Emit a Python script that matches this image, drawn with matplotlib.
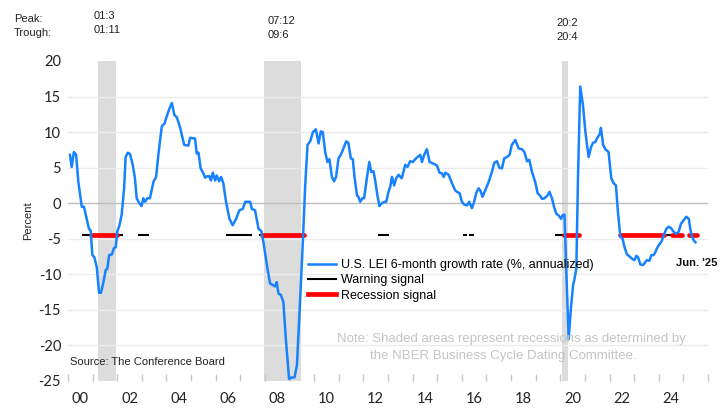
import matplotlib
matplotlib.use("Agg")
import matplotlib.pyplot as plt
from matplotlib.lines import Line2D

plt.rcParams['axes.unicode_minus'] = False

# ---------------- data ----------------
lei_x = [2000.08, 2000.15, 2000.24, 2000.33, 2000.42, 2000.56, 2000.65, 2000.76, 2000.85, 2000.92,
         2000.99, 2001.07, 2001.17, 2001.26, 2001.34, 2001.44, 2001.53, 2001.60, 2001.67, 2001.78,
         2001.87, 2001.94, 2002.00, 2002.09, 2002.18, 2002.28, 2002.34, 2002.43, 2002.52, 2002.63,
         2002.72, 2002.79, 2002.89, 2002.99, 2003.06, 2003.13, 2003.22, 2003.33, 2003.47, 2003.58,
         2003.67, 2003.81, 2003.92, 2004.01, 2004.12, 2004.22, 2004.32, 2004.42, 2004.55, 2004.72,
         2004.89, 2004.96, 2005.16, 2005.23, 2005.30, 2005.39, 2005.50, 2005.57, 2005.66, 2005.74,
         2005.81, 2005.88, 2005.98, 2006.04, 2006.14, 2006.22, 2006.31, 2006.42, 2006.56, 2006.69,
         2006.83, 2006.96, 2007.10, 2007.20, 2007.29, 2007.40, 2007.47, 2007.60, 2007.74, 2007.85,
         2007.94, 2008.08, 2008.21, 2008.32, 2008.41, 2008.48, 2008.55, 2008.65, 2008.75, 2008.85,
         2008.98, 2009.09, 2009.20, 2009.30, 2009.40, 2009.54, 2009.63, 2009.73, 2009.84, 2009.95,
         2010.07, 2010.18, 2010.27, 2010.35, 2010.45, 2010.54, 2010.62, 2010.72, 2010.81, 2010.89,
         2010.99, 2011.08, 2011.19, 2011.30, 2011.39, 2011.49, 2011.57, 2011.64, 2011.74, 2011.80,
         2011.87, 2011.96, 2012.03, 2012.14, 2012.24, 2012.32, 2012.41, 2012.48, 2012.57, 2012.65,
         2012.75, 2012.85, 2012.93, 2013.02, 2013.09, 2013.16, 2013.25, 2013.33, 2013.43, 2013.56,
         2013.70, 2013.79, 2013.90, 2014.01, 2014.11, 2014.20, 2014.31, 2014.38, 2014.47, 2014.58,
         2014.69, 2014.82, 2014.99, 2015.09, 2015.19, 2015.26, 2015.33, 2015.46, 2015.60, 2015.73,
         2015.80, 2015.91, 2016.00, 2016.10, 2016.21, 2016.30, 2016.41, 2016.50, 2016.59, 2016.68,
         2016.75, 2016.84, 2016.95, 2017.09, 2017.22, 2017.32, 2017.43, 2017.52, 2017.63, 2017.72,
         2017.83, 2017.94, 2018.03, 2018.17, 2018.31, 2018.44, 2018.54, 2018.65, 2018.74, 2018.85,
         2018.98, 2019.08, 2019.19, 2019.26, 2019.36, 2019.48, 2019.56, 2019.66, 2019.76, 2019.84,
         2019.93, 2020.03, 2020.09, 2020.17, 2020.24, 2020.34, 2020.43, 2020.52, 2020.58, 2020.65,
         2020.72, 2020.81, 2020.92, 2021.02, 2021.15, 2021.25, 2021.33, 2021.42, 2021.52, 2021.60,
         2021.65, 2021.74, 2021.83, 2021.96, 2022.07, 2022.17, 2022.26, 2022.34, 2022.44, 2022.53,
         2022.61, 2022.71, 2022.82, 2022.91, 2023.01, 2023.09, 2023.16, 2023.25, 2023.36, 2023.45,
         2023.52, 2023.62, 2023.70, 2023.79, 2023.86, 2023.93, 2024.02, 2024.11, 2024.20, 2024.31,
         2024.40, 2024.50, 2024.60, 2024.70, 2024.81, 2024.90, 2025.01, 2025.12, 2025.22, 2025.28,
         2025.35, 2025.42, 2025.49]
lei_y = [6.8, 5.1, 7.2, 6.8, 3.0, -0.5, -0.5, -2.2, -3.6, -3.8,
         -7.3, -7.6, -9.0, -12.6, -12.6, -11.1, -9.4, -9.2, -7.3, -7.2,
         -6.3, -6.2, -4.0, -3.1, -1.6, 2.1, 6.5, 7.1, 6.9, 5.4,
         3.5, 0.7, 0.05, -0.4, 0.7, 0.2, 0.7, 0.7, 3.0, 3.7,
         6.8, 10.8, 11.2, 12.2, 13.3, 14.1, 12.4, 12.1, 10.7, 8.2,
         8.1, 9.2, 9.1, 7.0, 7.1, 4.9, 4.2, 3.6, 3.8, 3.8,
         3.2, 4.3, 3.2, 3.9, 3.1, 3.7, 2.8, 0.2, -2.2, -3.1,
         -2.2, -1.0, -0.8, 0.2, 0.2, 0.2, -0.8, -1.0, -3.6, -3.9,
         -5.5, -8.7, -11.3, -11.5, -11.7, -11.1, -12.7, -12.9, -13.9, -19.1,
         -24.7, -24.5, -24.5, -22.8, -15.8, -5.5, 2.1, 8.2, 8.7, 10.0,
         10.4, 8.4, 10.1, 10.0, 7.2, 5.8, 6.2, 3.7, 3.1, 3.7,
         6.3, 6.8, 7.7, 8.7, 8.5, 6.3, 6.2, 3.7, 1.1, 0.9,
         0.2, 0.7, 0.7, 3.5, 5.8, 4.4, 4.5, 3.2, 1.1, -0.4,
         0.0, 0.2, 0.2, 1.6, 2.3, 3.7, 2.5, 3.5, 4.0, 3.5,
         5.4, 5.1, 5.9, 5.8, 6.2, 6.5, 6.8, 5.8, 6.8, 7.6,
         5.8, 5.6, 5.3, 4.3, 4.2, 3.7, 4.3, 4.0, 2.8, 1.8,
         1.6, 1.4, 0.2, -0.2, -0.3, 0.2, -0.7, 0.2, 1.5, 2.1,
         1.8, 0.9, 1.8, 3.0, 4.4, 5.7, 5.9, 5.0, 4.9, 6.3,
         6.5, 6.8, 8.2, 8.9, 7.7, 7.6, 7.2, 5.9, 6.1, 4.4,
         3.0, 1.4, 1.0, 0.6, 0.7, 1.1, 1.6, 0.7, -0.7, -1.5,
         -1.7, -2.2, -1.7, -1.6, -9.2, -19.1, -14.8, -11.5, -10.6, -9.2,
         3.9, 16.4, 13.8, 10.0, 6.5, 7.9, 8.5, 8.6, 9.3, 9.7,
         10.6, 8.2, 7.6, 7.2, 3.5, 2.8, 2.5, -1.2, -4.7, -5.0,
         -6.2, -7.2, -7.5, -7.8, -8.0, -7.4, -7.6, -8.6, -8.7, -8.3,
         -8.0, -8.1, -7.3, -7.3, -6.9, -6.3, -5.8, -5.4, -4.5, -3.6,
         -3.3, -3.5, -4.0, -4.3, -4.0, -2.9, -2.4, -1.9, -2.2, -3.6,
         -4.7, -5.2, -5.5]

recessions = [(2001.20, 2001.95), (2007.95, 2009.47), (2020.08, 2020.33)]
peak_labels = ["01:3", "07:12", "20:2"]
trough_labels = ["01:11", "09:6", "20:4"]

signal_level = -4.4
warning_segments = [(2000.56, 2002.22), (2002.86, 2003.30), (2006.41, 2007.47),
                    (2007.74, 2007.90), (2012.61, 2013.05), (2016.04, 2016.20),
                    (2016.31, 2016.50), (2019.80, 2020.15), (2022.37, 2022.50),
                    (2024.20, 2024.56)]
recession_segments = [(2000.92, 2001.98), (2007.87, 2009.57), (2020.13, 2020.74),
                      (2022.44, 2024.23), (2024.54, 2024.94), (2025.24, 2025.55)]

year_ticks = list(range(2000, 2027))
label_years = list(range(2000, 2025, 2))
label_texts = ["00", "02", "04", "06", "08", "10", "12", "14", "16", "18", "20", "22", "24"]
y_ticks = [20, 15, 10, 5, 0, -5, -10, -15, -20, -25]

# ---------------- figure ----------------
W, H = 726, 413
fig = plt.figure(figsize=(W / 100, H / 100), dpi=100)
ax = fig.add_axes([68 / W, 1 - 381 / H, (708 - 68) / W, (381 - 61) / H])
ax.set_xlim(2000, 2026)
ax.set_ylim(-25, 20)

for (a, b) in recessions:
    ax.axvspan(a, b, color='#dcdcdc', lw=0, zorder=0)

for yv in y_ticks:
    if yv in (20, -25):
        continue
    ax.axhline(yv, color='#bdbdbd' if yv == 0 else '#ececec', lw=1.0, zorder=0.5)

blue = '#1782ff'
for (a, b) in warning_segments:
    ax.plot([a, b], [signal_level, signal_level], color='black', lw=1.5,
            solid_capstyle='butt', zorder=2)
for (a, b) in recession_segments:
    ax.plot([a, b], [signal_level, signal_level], color='#ff0000', lw=3.4,
            solid_capstyle='round', zorder=3)
ax.plot(lei_x, lei_y, color=blue, lw=1.8, zorder=4, solid_joinstyle='round')

for s in ax.spines.values():
    s.set_visible(False)

ax.set_yticks(y_ticks)
ax.set_yticklabels([str(v) for v in y_ticks], fontfamily='Lato', fontsize=10.5, color='#222222')
ax.tick_params(axis='y', length=0, pad=5)

ax.set_xticks(year_ticks)
ax.set_xticklabels([])
ax.tick_params(axis='x', which='major', length=5, direction='in', color='#c8c8c8', width=1)
ax.set_xticks([y + 0.5 for y in label_years], minor=True)
ax.set_xticklabels(label_texts, minor=True, fontfamily='Lato', fontsize=10.5, color='#222222')
ax.tick_params(axis='x', which='minor', length=0, pad=8)

ax.set_ylabel("Percent", fontfamily='Liberation Sans', fontsize=8, color='#222222', labelpad=4)

# legend
handles = [Line2D([], [], color=blue, lw=1.8),
           Line2D([], [], color='black', lw=1.5),
           Line2D([], [], color='#ff0000', lw=3.4)]
labels = ["U.S. LEI 6-month growth rate (%, annualized)", "Warning signal", "Recession signal"]
fig.legend(handles, labels, loc='upper left', bbox_to_anchor=(302 / W, 1 - 253 / H),
           frameon=False, borderpad=0, handlelength=2.2, handletextpad=0.45,
           labelspacing=0.26, prop={'family': 'Liberation Sans', 'size': 9})

tfont = dict(fontfamily='Liberation Sans', fontsize=8, color='#222222', va='center', ha='left')
fig.text(14 / W, 1 - 19 / H, "Peak:", **tfont)
fig.text(14 / W, 1 - 33 / H, "Trough:", **tfont)
peak_px = [(94, 16), (268, 21), (556, 23)]
for (px, py), p, t in zip(peak_px, peak_labels, trough_labels):
    fig.text(px / W, 1 - py / H, p, **tfont)
    fig.text(px / W, 1 - (py + 14) / H, t, **tfont)

fig.text(70 / W, 1 - 362 / H, "Source: The Conference Board", **tfont)
fig.text(717 / W, 1 - 263 / H, "Jun. '25", fontfamily='Liberation Sans', fontsize=8,
         fontweight='bold', color='#111111', ha='right', va='center')
nfont = dict(fontfamily='Liberation Sans', fontsize=9.5, color='#c4c4c4', va='center', ha='center')
fig.text(511 / W, 1 - 339 / H, "Note: Shaded areas represent recessions as determined by", **nfont)
fig.text(503 / W, 1 - 356 / H, "the NBER Business Cycle Dating Committee.", **nfont)

fig.savefig("out.png", dpi=100)
